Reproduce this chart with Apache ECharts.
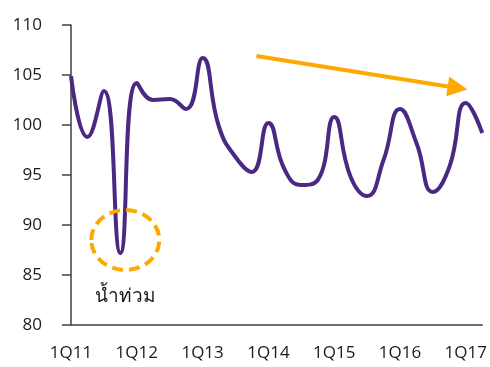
<!DOCTYPE html>
<html>
<head>
<meta charset="utf-8">
<script src="https://cdn.jsdelivr.net/npm/echarts@6/dist/echarts.min.js"></script>
<style>
  html, body { margin: 0; padding: 0; background: #fff; }
  #chart { width: 490px; height: 367px; }
</style>
</head>
<body>
<div id="chart"></div>
<script>
// Quarterly index, 1Q11 .. 2Q17
const quarters = [
  '1Q11','2Q11','3Q11','4Q11',
  '1Q12','2Q12','3Q12','4Q12',
  '1Q13','2Q13','3Q13','4Q13',
  '1Q14','2Q14','3Q14','4Q14',
  '1Q15','2Q15','3Q15','4Q15',
  '1Q16','2Q16','3Q16','4Q16',
  '1Q17','2Q17'
];
const values = [
  104.9, 98.8, 103.4, 87.2,
  104.2, 102.5, 102.6, 101.6,
  106.7, 99.8, 96.8, 95.3,
  100.2, 95.5, 94.0, 94.5,
  100.8, 94.8, 92.9, 96.5,
  101.6, 98.2, 93.3, 95.8,
  102.2, 99.2
];
const yTicks = { min: 80, max: 110, step: 5 };

// Annotations in data space: flood dip marker and downtrend arrow
const floodLabel = 'น้ำท่วม';
const floodCenter = [3.3, 88.5];
const floodLabelAt = [3.3, 82.8];
const trendFrom = [11.27, 106.9];
const trendTo = [23.5, 103.7];

const orange = '#FFA800';
const purple = '#4B2882';
const axisColor = '#404040';
const font = '"Open Sans", "Noto Sans", sans-serif';

const chart = echarts.init(document.getElementById('chart'));

const seriesData = values.map((v, i) => [i, v]);

chart.setOption({
  animation: false,
  grid: { left: 71, right: 7, top: 25, bottom: 42, containLabel: false },
  xAxis: {
    type: 'value',
    min: 0,
    max: quarters.length - 1,
    interval: 4,
    axisLine: { show: true, lineStyle: { color: axisColor, width: 1.5 } },
    axisTick: { show: false },
    splitLine: { show: false },
    axisLabel: {
      margin: 20,
      fontSize: 17,
      fontFamily: font,
      color: '#1a1a1a',
      showMaxLabel: false,
      formatter: v => (v % 4 === 0 ? quarters[v] : '')
    }
  },
  yAxis: {
    type: 'value',
    min: yTicks.min,
    max: yTicks.max,
    interval: yTicks.step,
    axisLine: { show: true, lineStyle: { color: axisColor, width: 1.5 } },
    axisTick: { show: true, inside: false, length: 9, lineStyle: { color: axisColor, width: 1.5 } },
    splitLine: { show: false },
    axisLabel: {
      margin: 29,
      fontSize: 17,
      fontFamily: font,
      color: '#1a1a1a'
    }
  },
  series: [{
    type: 'line',
    data: seriesData,
    smooth: 0.5,
    showSymbol: false,
    lineStyle: { color: purple, width: 4 },
    markLine: {
      silent: true,
      symbol: ['none', 'triangle'],
      symbolSize: [20, 20],
      label: { show: false },
      lineStyle: { color: orange, width: 4, type: 'solid' },
      data: [[
        { coord: trendFrom },
        { coord: trendTo }
      ]]
    }
  }]
});

function drawNotes() {
  const c = chart.convertToPixel({ xAxisIndex: 0, yAxisIndex: 0 }, floodCenter);
  const t = chart.convertToPixel({ xAxisIndex: 0, yAxisIndex: 0 }, floodLabelAt);
  chart.setOption({
    graphic: [
      {
        type: 'ellipse',
        shape: { cx: c[0], cy: c[1], rx: 34, ry: 30 },
        style: { fill: 'none', stroke: orange, lineWidth: 4, lineDash: [11, 6] },
        z: 10
      },
      {
        type: 'text',
        x: t[0],
        y: t[1],
        style: {
          text: floodLabel,
          fontSize: 19,
          fontFamily: font,
          fill: '#1a1a1a',
          align: 'center',
          verticalAlign: 'middle'
        },
        z: 10
      }
    ]
  });
}
drawNotes();
</script>
</body>
</html>
